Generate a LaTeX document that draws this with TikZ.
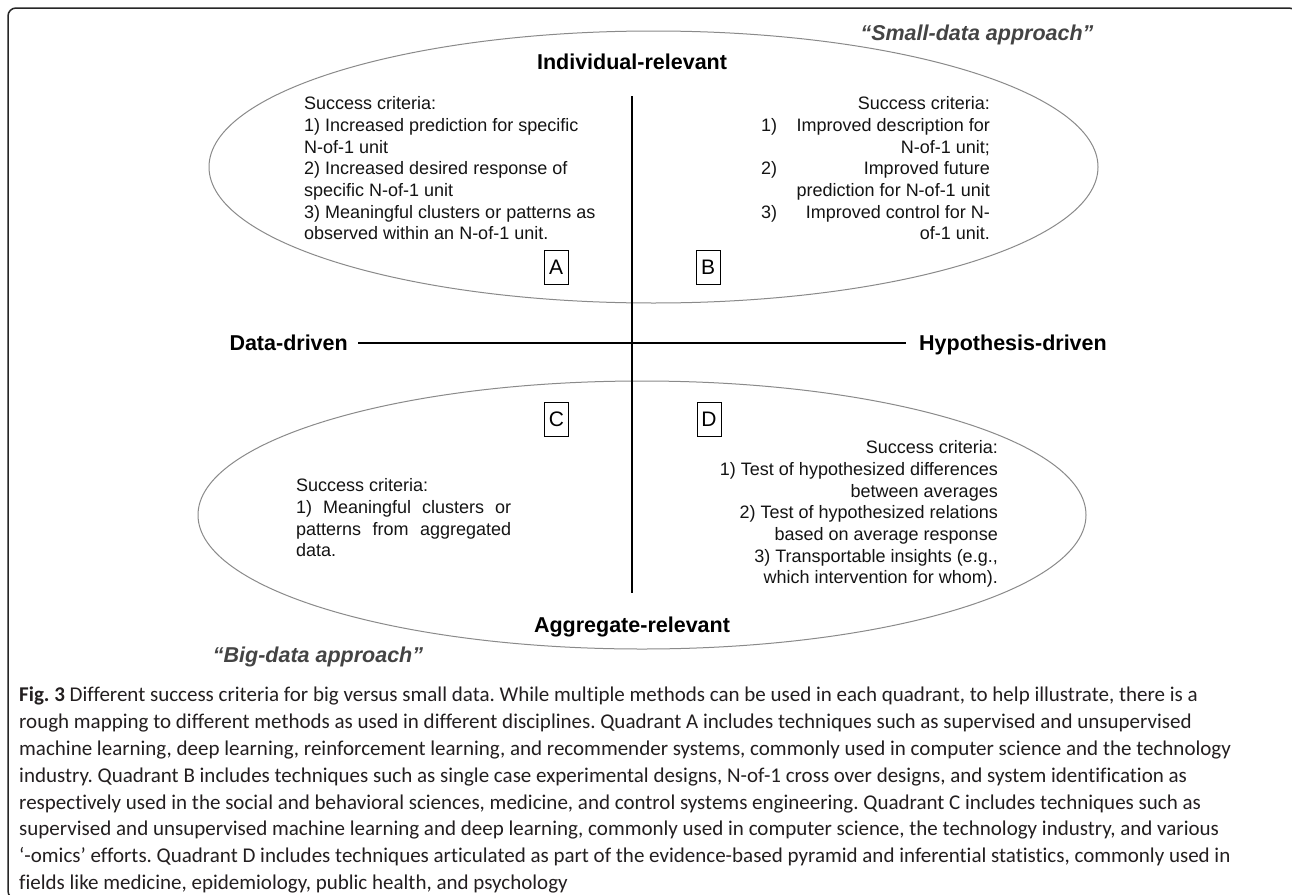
\documentclass[tikz,border=0pt]{standalone}
\usepackage{fontspec}
\setmainfont{Liberation Sans}
\newfontfamily\capfont[Ligatures=NoCommon]{Carlito}
\definecolor{ellgray}{HTML}{8A8A8A}
\definecolor{quotegray}{HTML}{444444}
\definecolor{captext}{HTML}{231F20}
\frenchspacing
\begin{document}
\begin{tikzpicture}[x=1pt,y=-1pt,
  lab/.style={font=\fontsize{21.5}{24}\selectfont\bfseries, inner sep=0pt, text=black},
  quotelab/.style={font=\fontsize{21.5}{24}\selectfont\bfseries\itshape, inner sep=0pt, text=quotegray},
  crit/.style={font=\fontsize{18}{21.7}\selectfont, inner sep=0pt, text=black!92},
  qbox/.style={draw=black, line width=0.8pt, minimum width=24pt, minimum height=34pt, inner sep=0pt, font=\fontsize{21}{24}\selectfont},
  ell/.style={draw=ellgray, line width=1pt},
  axisline/.style={draw=black, line width=1.6pt},
  frame/.style={draw=black!85, line width=1.5pt, rounded corners=8pt}]
\useasboundingbox (0,0) rectangle (1292,894);
\clip (0,0) rectangle (1292,894);
\fill[white] (0,0) rectangle (1292,894);
\draw[frame] (8,8) rectangle (1297,899);

% ellipses
\draw[ell] (653.5,167) ellipse [x radius=444.5pt, y radius=136pt];
\draw[ell] (642,515) ellipse [x radius=444pt, y radius=134pt];

% axes
\coordinate (vt) at (632,96);
\coordinate (vb) at (632,593);
\coordinate (hl) at (358,343);
\coordinate (hr) at (906,343);
\draw[axisline] (vt) -- (vb);
\draw[axisline] (hl) -- (hr);

% axis labels
\node[lab, anchor=base] (ir) at (632,69) {Individual-relevant};
\node[lab, anchor=base] (ar) at (632,632) {Aggregate-relevant};
\node[lab, anchor=base east] (dd) at (348,350.5) {Data-driven};
\node[lab, anchor=base west] (hd) at (919,350.5) {Hypothesis-driven};
\node[quotelab, anchor=base] (sd) at (977,40.5) {“Small-data approach”};
\node[quotelab, anchor=base] (bd) at (318,662.5) {“Big-data approach”};

% quadrant boxes
\node[qbox] (A) at (556,267) {A};
\node[qbox] (B) at (708,267) {B};
\node[qbox] (C) at (556.5,419) {C};
\node[qbox] (D) at (709,419) {D};

% quadrant A text
\node[crit, anchor=north west, align=left] (ta) at (304,96.5) {Success criteria:\\
1) Increased prediction for specific\\
N-of-1 unit\\
2) Increased desired response of\\
specific N-of-1 unit\\
3) Meaningful clusters or patterns as\\
observed within an N-of-1 unit.};

% quadrant B text
\node[crit, anchor=north east, align=right] (tb) at (990,96.5) {Success criteria:\\
Improved description for\\
N-of-1 unit;\\
Improved future\\
prediction for N-of-1 unit\\
Improved control for N-\\
of-1 unit.};
\node[crit, anchor=base west] (tb1) at (761,131.2) {1)};
\node[crit, anchor=base west] (tb2) at (761,174.6) {2)};
\node[crit, anchor=base west] (tb3) at (761,218.0) {3)};

% quadrant C text
\node[crit, anchor=north west, align=left] (tc) at (296,478.5) {Success criteria:\\
\hbox to 215pt{1)\hfil Meaningful\hfil clusters\hfil or}\\
\hbox to 215pt{patterns\hfil from\hfil aggregated}\\
data.};

% quadrant D text
\node[crit, anchor=north east, align=right] (td) at (998,440.5) {Success criteria:\\
1) Test of hypothesized differences\\
between averages\\
2) Test of hypothesized relations\\
based on average response\\
3) Transportable insights (e.g.,\\
which intervention for whom).};

% caption
\node[anchor=north west, align=left, inner sep=0pt, text=captext,
      font=\capfont\fontsize{21}{26.8}\selectfont] (cap) at (19,687) {%
\textbf{Fig. 3} Different success criteria for big versus small data. While multiple methods can be used in each quadrant, to help illustrate, there is a\\
rough mapping to different methods as used in different disciplines. Quadrant A includes techniques such as supervised and unsupervised\\
machine learning, deep learning, reinforcement learning, and recommender systems, commonly used in computer science and the technology\\
industry. Quadrant B includes techniques such as single case experimental designs, N-of-1 cross over designs, and system identification as\\
respectively used in the social and behavioral sciences, medicine, and control systems engineering. Quadrant C includes techniques such as\\
supervised and unsupervised machine learning and deep learning, commonly used in computer science, the technology industry, and various\\
‘-omics’ efforts. Quadrant D includes techniques articulated as part of the evidence-based pyramid and inferential statistics, commonly used in\\
fields like medicine, epidemiology, public health, and psychology};
\end{tikzpicture}
\end{document}
